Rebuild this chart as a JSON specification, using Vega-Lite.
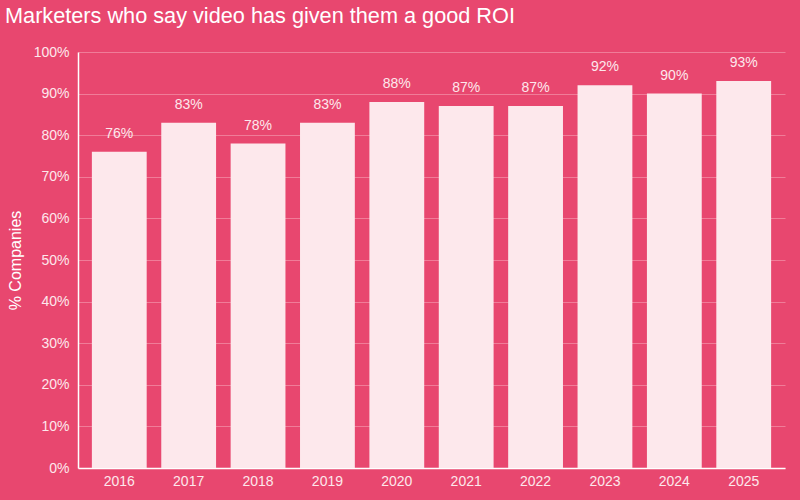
{
  "$schema": "https://vega.github.io/schema/vega-lite/v6.json",
  "autosize": "none",
  "width": 707,
  "height": 416,
  "padding": {"left": 78, "top": 52, "right": 15, "bottom": 32},
  "background": "#E8476F",
  "title": {
    "text": "Marketers who say video has given them a good ROI",
    "anchor": "start",
    "frame": "group",
    "dx": -73,
    "offset": 17,
    "fontSize": 21.7,
    "font": "Liberation Sans",
    "fontWeight": "normal",
    "color": "#FFFFFF"
  },
  "data": {
    "values": [
      {"year": "2016", "pct": 76},
      {"year": "2017", "pct": 83},
      {"year": "2018", "pct": 78},
      {"year": "2019", "pct": 83},
      {"year": "2020", "pct": 88},
      {"year": "2021", "pct": 87},
      {"year": "2022", "pct": 87},
      {"year": "2023", "pct": 92},
      {"year": "2024", "pct": 90},
      {"year": "2025", "pct": 93}
    ]
  },
  "transform": [{"calculate": "datum.pct + '%'", "as": "label"}],
  "encoding": {
    "x": {
      "field": "year", "type": "nominal", "sort": null,
      "scale": {"paddingInner": 0.21, "paddingOuter": 0.2},
      "axis": {"title": null, "labelAngle": 0, "ticks": false, "labelPadding": 6, "domainColor": "#FFFFFF", "domainWidth": 1.5}
    },
    "y": {
      "field": "pct", "type": "quantitative",
      "scale": {"domain": [0, 100]},
      "axis": {
        "title": "% Companies", "titleFontSize": 16, "titleFontWeight": "normal", "titleColor": "#FFFFFF", "titlePadding": 10,
        "values": [0, 10, 20, 30, 40, 50, 60, 70, 80, 90, 100],
        "labelExpr": "datum.value + '%'",
        "ticks": false, "labelPadding": 9,
        "domainColor": "#FFFFFF", "domainWidth": 1.5,
        "gridColor": "#F07C98", "gridWidth": 1
      }
    }
  },
  "layer": [
    {"mark": {"type": "bar", "color": "#FDE8EC"}},
    {
      "mark": {"type": "text", "baseline": "bottom", "dy": -11, "fontSize": 14, "color": "#FDE8EC", "font": "Liberation Sans"},
      "encoding": {"text": {"field": "label", "type": "nominal"}}
    }
  ],
  "config": {
    "view": {"stroke": null},
    "axis": {"labelFont": "Liberation Sans", "titleFont": "Liberation Sans", "labelFontSize": 14, "labelColor": "#FDE8EC"}
  }
}
